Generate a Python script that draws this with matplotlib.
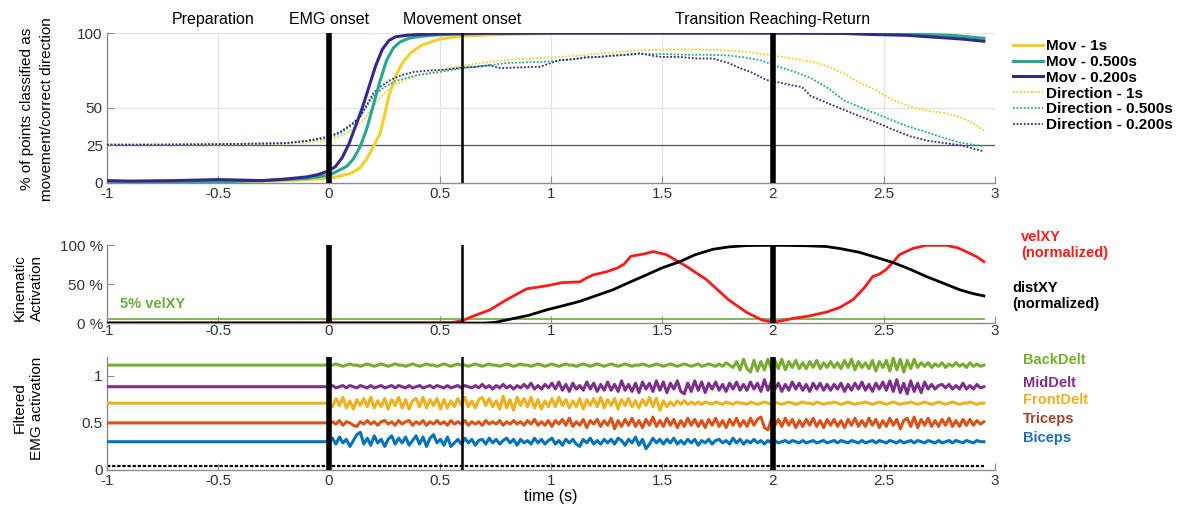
import matplotlib.pyplot as plt
import numpy as np

plt.rcParams['font.family'] = ['Liberation Sans', 'DejaVu Sans']

yellow = "#F2CF2A"
teal   = "#24A88E"
indigo = "#35288C"

# ---- top panel: % of points classified as movement / correct direction
mov1_t = [-1, -0.5, -0.2, 0, 0.05, 0.1, 0.14, 0.17, 0.2, 0.23, 0.25, 0.27, 0.3, 0.33, 0.37,
          0.42, 0.5, 0.6, 0.8, 1.0, 2.0, 2.4, 2.6, 2.8, 2.95]
mov1_v = [0.3, 0.5, 1.5, 3, 4.5, 6.5, 10, 16, 24, 33, 45, 58, 71, 80, 87,
          92, 96, 98, 99.2, 99.7, 100, 99.8, 99.3, 98.3, 96]

mov05_t = [-1, -0.5, -0.3, -0.1, 0, 0.04, 0.08, 0.11, 0.14, 0.17, 0.2, 0.23, 0.26, 0.29, 0.32,
           0.36, 0.4, 0.46, 0.55, 0.7, 1.0, 2.0, 2.4, 2.6, 2.8, 2.95]
mov05_v = [0.5, 0.8, 1.5, 3, 5, 8, 11, 16, 24, 36, 52, 68, 82, 90, 94,
           96.5, 97.5, 98.5, 99.2, 99.7, 100, 100, 99.8, 99.2, 98.5, 96.5]

mov02_t = [-1, -0.9, -0.7, -0.5, -0.3, -0.2, -0.1, -0.05, 0, 0.03, 0.06, 0.09, 0.12, 0.15, 0.18,
           0.21, 0.24, 0.27, 0.3, 0.35, 0.4, 0.5, 0.7, 1.0, 1.5, 2.0, 2.3, 2.45, 2.6, 2.75,
           2.85, 2.95]
mov02_v = [1.5, 1.2, 1.5, 2.2, 1.5, 2.5, 4, 5.5, 8, 11, 17, 26, 38, 50, 64,
           78, 89, 95, 97.5, 98.5, 99, 99.5, 99.8, 100, 100, 100, 99.8, 99, 98.5, 97,
           96, 94.5]

dir1_t = [-1, -0.5, -0.2, -0.1, 0, 0.05, 0.1, 0.15, 0.2, 0.25, 0.3, 0.4, 0.5, 0.6, 0.68,
          0.8, 0.9, 1.0, 1.2, 1.4, 1.55, 1.66, 1.78, 1.88, 1.94, 2.0, 2.09, 2.17, 2.24, 2.32,
          2.39, 2.45, 2.51, 2.56, 2.62, 2.7, 2.77, 2.84, 2.9, 2.95]
dir1_v = [25.5, 25.5, 26, 27, 28.5, 31, 35, 41, 51, 60, 66, 72, 75, 78, 80,
          82, 83, 83.5, 86, 88.5, 89, 89, 88.5, 87.5, 86, 85, 83, 81, 78, 73,
          66.7, 63, 57.8, 54, 50.8, 48, 46.7, 44, 40, 35]

dir05_t = [-1, -0.6, -0.2, -0.1, 0, 0.05, 0.1, 0.14, 0.17, 0.2, 0.25, 0.3, 0.4, 0.5, 0.6,
           0.7, 0.8, 0.9, 1.0, 1.1, 1.2, 1.3, 1.4, 1.5, 1.6, 1.7, 1.8, 1.86, 1.94, 2.02,
           2.1, 2.17, 2.25, 2.32, 2.4, 2.5, 2.6, 2.69, 2.77, 2.84, 2.9, 2.95]
dir05_v = [25.5, 25.5, 26.5, 28, 30, 33, 38, 44, 51, 58, 64, 68, 72, 74, 76.5,
           78, 80, 80.5, 81, 82.5, 84, 85, 86, 86, 85.5, 85.5, 85, 84, 82, 77.8,
           74, 70, 63, 55, 50, 44, 38, 34, 30, 27, 25.5, 24.5]

dir02_t = [-1, -0.8, -0.6, -0.4, -0.2, -0.1, 0, 0.05, 0.1, 0.14, 0.17, 0.2, 0.23, 0.28, 0.33,
           0.38, 0.45, 0.52, 0.6, 0.66, 0.72, 0.77, 0.85, 0.95, 1.04, 1.1, 1.16, 1.22, 1.28, 1.34,
           1.4, 1.45, 1.5, 1.58, 1.66, 1.73, 1.8, 1.85, 1.9, 1.97, 2.03, 2.09, 2.13, 2.17, 2.25,
           2.32, 2.4, 2.47, 2.55, 2.62, 2.7, 2.77, 2.85, 2.9, 2.95]
dir02_v = [25.5, 25.5, 25.8, 26, 26.5, 28, 31, 34, 39, 44, 52, 60, 64, 69, 72,
           74, 75, 75.5, 77, 77.5, 78.5, 76.6, 77, 77.5, 82, 82.5, 84, 84, 85, 85.5,
           86.5, 85, 84, 84, 83, 83, 80, 76.6, 74, 68.7, 67, 65, 64, 58, 53,
           48.7, 44, 40, 35, 31, 28, 26.6, 25, 23, 21]

top_labels = ["Mov - 1s", "Mov - 0.500s", "Mov - 0.200s",
              "Direction - 1s", "Direction - 0.500s", "Direction - 0.200s"]

# ---- middle panel: kinematics (normalized, %)
vel_t = [-1, 0.55, 0.6, 0.65, 0.725, 0.8, 0.89, 0.98, 1.05, 1.13, 1.16, 1.19, 1.25, 1.3, 1.33,
         1.36, 1.42, 1.46, 1.52, 1.61, 1.7, 1.8, 1.88, 1.95, 2.0, 2.04, 2.09, 2.16, 2.24, 2.3,
         2.36, 2.41, 2.45, 2.48, 2.51, 2.54, 2.57, 2.63, 2.69, 2.78, 2.83, 2.87, 2.92, 2.95]
vel_v = [0.3, 0.5, 3, 9, 17, 30, 44, 48, 52, 53, 58, 62, 66, 71, 76,
         86, 89, 92, 88, 73, 56, 30, 14, 4, 1, 3, 6, 9, 14, 20,
         30, 45, 60, 63, 69, 78, 88, 96, 100, 100, 97, 92, 85, 79]

dist_t = [-1, 0.7, 0.75, 0.8, 0.9, 0.98, 1.05, 1.13, 1.2, 1.28, 1.35, 1.43, 1.5, 1.58, 1.65,
          1.73, 1.8, 1.88, 1.95, 2.05, 2.15, 2.24, 2.3, 2.39, 2.46, 2.54, 2.62, 2.69, 2.77, 2.84,
          2.9, 2.95]
dist_v = [0, 0, 1, 4, 10, 17, 22, 28, 35, 43, 52, 62, 71, 79, 88,
          95, 98, 99.7, 100, 100, 99.5, 98.5, 96, 91, 85, 78, 69, 60, 51, 43,
          38, 35]

vel_threshold = 5

# ---- bottom panel: filtered EMG, offsets from each baseline in units of 0.0125,
# one row per 0.25 s starting at EMG onset (flat before it)
muscles = ["Biceps", "Triceps", "FrontDelt", "MidDelt", "BackDelt"]
baselines = [0.30, 0.50, 0.71, 0.885, 1.115]
emg_unit = 0.0125
emg_colors = ["#0072BD", "#D95319", "#EDB120", "#7E2F8E", "#77AC30"]
label_colors = ["#1A6FC0", "#A8452A", "#EDB120", "#7E2F8E", "#77AC30"]

biceps = [0, 3, -2, 4, -1, 2, -4, 1, 6, 8, -2, 3, -3, 5, -1, 2,
          -4, 2, 5, -2, 3, -1, 4, -3, 1, 5, -2, 4, -4, 3, 6, -1,
          2, -3, 4, -4, -1, 2, -2, 3, -1, 2, -3, 1, 2, -2, 3, -1,
          2, -2, 1, 3, -1, 2, -3, 2, -1, 1, -2, 3, -1, 2, -2, 1,
          3, -2, 1, -3, 2, -1, 2, -2, -4, 2, -1, 3, -2, 1, -2, 2,
          -1, 2, -2, 3, 1, -3, 2, -1, 4, -3, 2, -6, -2, 3, -1, 2,
          -2, 2, -1, 3, -2, 1, -2, 2, -1, 2, -3, 1, -1, 2, -2, 1,
          2, -1, 1, -2, 3, -1, 2, -2, 1, -1, 2, -1, 1, -2, 1, -1,
          1, -1, 0, 1, -1, 1, 0, -1, 1, -1, 0, 1, -1, 0, 1, -1,
          0, 1, -1, 1, 0, -1, 1, 0, -1, 1, -1, 0, 1, -1, 1, 0,
          -1, 1, 0, -1, 1, -1, 0, 1, -1, 1, 0, -1, 1, 0, -1, 1,
          -1, 0, 1, -1, 1, 0, -1, 1, 0, -1, 1, 0, 0]
triceps = [0, 1, -1, 2, -2, 1, 0, -2, -3, 1, -1, 2, -1, 1, -2, 1,
           2, -1, 1, -2, 2, -1, 1, 2, -2, 1, -1, 2, -2, 1, -1, 2,
           -1, 1, -2, 2, -1, 1, -1, 2, -2, 1, -1, 1, -2, 2, -1, 1,
           -1, 2, -2, 1, -1, 2, -1, 1, -2, 2, -1, 3, -2, 1, -2, 2,
           -3, 2, -1, 3, -2, 4, -3, 1, -2, 3, -4, 2, -1, 3, -3, 2,
           -2, 4, -5, 2, -3, 3, -2, 4, -3, 2, -4, 3, -2, 5, -3, 2,
           -3, 4, -2, 3, -4, 2, -3, 4, -2, 3, -3, 2, -4, 3, -2, 4,
           -3, 2, -4, 3, -2, 4, -3, 2, -3, 4, -2, 3, 5, -4, -6, 3,
           -2, 3, -3, 4, -2, 3, -4, 2, -3, 3, -2, 4, -3, 2, -4, 3,
           -2, 3, -3, 2, -4, 3, -2, 4, -3, 2, -3, 4, -2, 3, -4, 2,
           -3, 4, -2, 3, -5, 2, 4, -3, 5, -4, 3, -2, 4, -3, 2, -3,
           3, -2, 4, -3, 2, -3, 3, -2, 3, -2, 2, -1, 1]
frontdelt = [0, -3, 4, -2, 5, -4, 2, -5, 3, -2, 4, -3, 5, -4, 2, -3,
             4, -5, 3, -2, 5, -4, 3, -5, 2, 4, -3, 5, -4, 3, -2, 4,
             -5, 3, -4, 2, -3, 4, -2, 5, -3, 2, -4, 3, 5, -2, 4, -3,
             2, -5, 6, -4, 3, -6, 5, -2, 4, -3, 5, -4, 3, -5, 2, -3,
             4, -3, 5, -2, 3, -4, 2, -3, 4, -5, 3, -2, 4, -3, 5, -4,
             3, -2, 4, -5, 3, -2, 4, -3, 2, -4, 3, -2, 5, -3, 4, -6,
             2, -3, 1, -2, 2, -1, 2, -1, 1, -1, 1, -1, 1, 0, -1, 1,
             0, -1, 1, 0, -1, 1, 0, 0, -1, 1, 0, -1, 0, 1, 0, -1,
             1, 0, -1, 0, 1, 0, -1, 0, 1, 0, 0, -1, 1, 0, -1, 0,
             0, 1, 0, -1, 0, 1, 0, -1, 0, 0, 1, 0, -1, 0, 1, 0,
             -1, 0, 1, 0, -1, 0, 0, 1, 0, -1, 0, 1, 0, -1, 0, 1,
             0, -1, 0, 1, 0, -1, 0, 0, 1, 0, -1, 0, 0]
middelt = [0, 1, -1, 0, 1, -1, 1, 0, -1, 1, 0, -1, 1, -1, 0, 1,
           -1, 0, 1, -1, 1, 0, -1, 1, -1, 0, 1, -1, 0, 1, -1, 1,
           0, -1, 1, -1, 0, 1, -1, 1, 0, -1, 1, -1, 2, -1, 1, -2,
           1, -1, 2, -1, 1, -2, 1, -1, 2, -1, 3, -2, 1, -2, 2, -1,
           3, -2, 4, -3, 2, -4, 3, -2, 1, -3, 4, -2, 3, -4, 2, -3,
           4, -3, 2, -4, 5, -3, 2, -4, 3, -5, 4, -2, 3, -4, 5, -3,
           4, -5, 3, -2, 5, -4, -6, 3, -4, 5, -3, 4, -5, 3, -2, 4,
           -3, 2, -4, 3, -2, 4, -3, 2, -3, 4, -2, 3, -4, 6, -3, 4,
           -2, 3, -4, 2, -3, 4, -2, 3, -3, 2, -4, 3, -2, 3, -3, 2,
           -3, 2, -2, 3, -4, 2, -3, 3, -2, 4, -3, 2, -4, 3, -2, 4,
           -3, 5, -4, 6, -5, 3, -6, 5, -4, 3, -5, 4, -2, 2, -2, 1,
           2, -1, 2, -2, 1, -2, 3, -2, 1, -2, 2, -1, 0]
backdelt = [0, 0, 1, 0, -1, 0, 1, 0, 0, -1, 0, 1, 0, -1, 0, 1,
            0, -1, 0, 1, 0, 0, -1, 0, 1, 0, -1, 0, 1, 0, 0, -1,
            0, 1, 0, -1, 0, 1, 0, 0, -1, 0, 1, 0, -1, 0, 1, 0,
            0, -1, 0, 1, 0, -1, 0, 1, 0, 0, -1, 0, 1, 0, -1, 0,
            1, 0, -1, 0, 1, 0, 0, -1, 0, 1, 0, -1, 0, 1, 0, -1,
            0, 1, 0, -1, 0, 1, 0, -1, 0, 0, 1, 0, -1, 0, 1, 0,
            -1, 0, 1, 0, -1, 0, 1, 0, -1, 0, 1, -1, 0, 1, 0, -1,
            1, -1, 2, 0, -2, 3, -4, 5, -3, -6, 4, -5, 3, -4, 5, -3,
            4, -3, 5, -4, 3, -2, 4, -3, 2, -3, 3, -2, 4, -3, 2, -2,
            3, -2, 2, -3, 4, -2, 5, -4, 3, -2, 2, -3, 4, -5, 3, -2,
            4, -5, 6, -4, 5, -6, 4, -3, 5, -2, 2, -1, 2, -2, 1, -1,
            2, -2, 1, -1, 2, -1, 1, -2, 2, -1, 1, -1, 0]
emg_devs = [biceps, triceps, frontdelt, middelt, backdelt]

events = [0, 0.6, 2.0]
event_widths = [4.0, 1.8, 4.0]
event_names = ["EMG onset", "Movement onset", "Transition Reaching-Return"]

xticks = [-1, -0.5, 0, 0.5, 1, 1.5, 2, 2.5, 3]
xticklabels = ["-1", "-0.5", "0", "0.5", "1", "1.5", "2", "2.5", "3"]


def style_axes(ax, yticks, yticklabels):
    ax.set_xlim(-1, 3)
    ax.set_xticks(xticks)
    ax.set_xticklabels(xticklabels)
    ax.set_yticks(yticks)
    ax.set_yticklabels(yticklabels)
    for s in ["top", "right"]:
        ax.spines[s].set_visible(False)
    for s in ["left", "bottom"]:
        ax.spines[s].set_color("#8c8c8c")
        ax.spines[s].set_linewidth(1.0)
    ax.tick_params(direction="in", length=5, width=0.8, color="#8c8c8c",
                   labelsize=11, labelcolor="#333333", pad=3)


fig = plt.figure(figsize=(11.94, 5.08), dpi=100)
ax1 = fig.add_axes([0.0896, 0.640, 0.7437, 0.295])
ax2 = fig.add_axes([0.0896, 0.364, 0.7437, 0.153])
ax3 = fig.add_axes([0.0896, 0.075, 0.7437, 0.222])

# ---- top
for x in [-0.5, 0.5, 1, 1.5, 2.5]:
    ax1.axvline(x, color="#e3e3e3", lw=0.9, zorder=0)
for y in [50, 100]:
    ax1.axhline(y, color="#e3e3e3", lw=0.9, zorder=0)
ax1.axhline(25, color="#555555", lw=0.9, zorder=1)

l1, = ax1.plot(mov1_t, mov1_v, color=yellow, lw=2.2, zorder=3)
l2, = ax1.plot(mov05_t, mov05_v, color=teal, lw=2.2, zorder=4)
l3, = ax1.plot(mov02_t, mov02_v, color=indigo, lw=2.2, zorder=5)
d1, = ax1.plot(dir1_t, dir1_v, color=yellow, lw=1.3, ls=(0, (1, 1)), zorder=3)
d2, = ax1.plot(dir05_t, dir05_v, color=teal, lw=1.3, ls=(0, (1, 1)), zorder=3)
d3, = ax1.plot(dir02_t, dir02_v, color=indigo, lw=1.3, ls=(0, (1, 1)), zorder=3)
ax1.set_ylim(0, 100)
style_axes(ax1, [0, 25, 50, 100], ["0", "25", "50", "100"])
for x, w in zip(events, event_widths):
    ax1.axvline(x, color="black", lw=w, zorder=6)

fig.legend([l1, l2, l3, d1, d2, d3], top_labels, loc="upper left",
           bbox_to_anchor=(0.843, 0.935), frameon=False, handlelength=2.0,
           handletextpad=0.2, labelspacing=0.12, borderaxespad=0,
           prop={"weight": "bold", "size": 11})

fig.text(0.0896 + 0.7437 * 0.12, 0.962, "Preparation", ha="center", va="center", fontsize=11.5)
for x, name in zip(events, event_names):
    fig.text(0.0896 + 0.7437 * (x + 1) / 4, 0.962, name, ha="center", va="center", fontsize=11.5)

fig.text(0.031, 0.785, "% of points classified as\nmovement/correct direction",
         rotation=90, ha="center", va="center", fontsize=11, linespacing=1.5)

# ---- middle
ax2.axhline(vel_threshold, xmax=3.95 / 4, color="#6AAB3A", lw=1.2, zorder=2)
ax2.plot(vel_t, vel_v, color="#FF1A1A", lw=2.0, zorder=3)
ax2.plot(dist_t, dist_v, color="black", lw=2.0, zorder=4)
ax2.set_ylim(0, 100)
style_axes(ax2, [0, 50, 100], ["0 %", "50 %", "100 %"])
ax2.tick_params(axis="x", pad=1)
for x, w in zip(events, event_widths):
    ax2.axvline(x, color="black", lw=w, zorder=6)
ax2.text(-0.94, 24, "5% velXY", color="#6AAB3A", fontsize=10.5, fontweight="bold", va="center")
fig.text(0.855, 0.518, "velXY\n(normalized)", color="#FF1A1A", fontsize=10.5,
         fontweight="bold", va="center", linespacing=1.2)
fig.text(0.848, 0.418, "distXY\n(normalized)", color="black", fontsize=10.5,
         fontweight="bold", va="center", linespacing=1.2)
fig.text(0.024, 0.433, "Kinematic\nActivation", rotation=90, ha="center",
         va="center", fontsize=11, linespacing=1.3)

# ---- bottom
emg_t = np.concatenate([[-1], np.linspace(0, 2.95, len(biceps))])
for base, dev, c in zip(baselines, emg_devs, emg_colors):
    ax3.plot(emg_t, base + np.concatenate([[0], dev]) * emg_unit, color=c, lw=2.2, zorder=3)
ax3.axhline(0.045, xmax=3.95 / 4, color="black", lw=1.6, ls=(0, (1.5, 0.8)), zorder=2)
ax3.set_ylim(0, 1.2)
style_axes(ax3, [0, 0.5, 1], ["0", "0.5", "1"])
for x, w in zip(events, event_widths):
    ax3.axvline(x, color="black", lw=w, zorder=6)
ax3.set_xlabel("time (s)", fontsize=11.5, labelpad=1)

label_y = [0.137, 0.175, 0.213, 0.247, 0.292]
for name, c, y in zip(muscles, label_colors, label_y):
    fig.text(0.857, y, name, color=c, fontsize=10.5, fontweight="bold", va="center")
fig.text(0.024, 0.197, "Filtered\nEMG activation", rotation=90, ha="center",
         va="center", fontsize=11, linespacing=1.3)

fig.savefig("out.png", dpi=100)
